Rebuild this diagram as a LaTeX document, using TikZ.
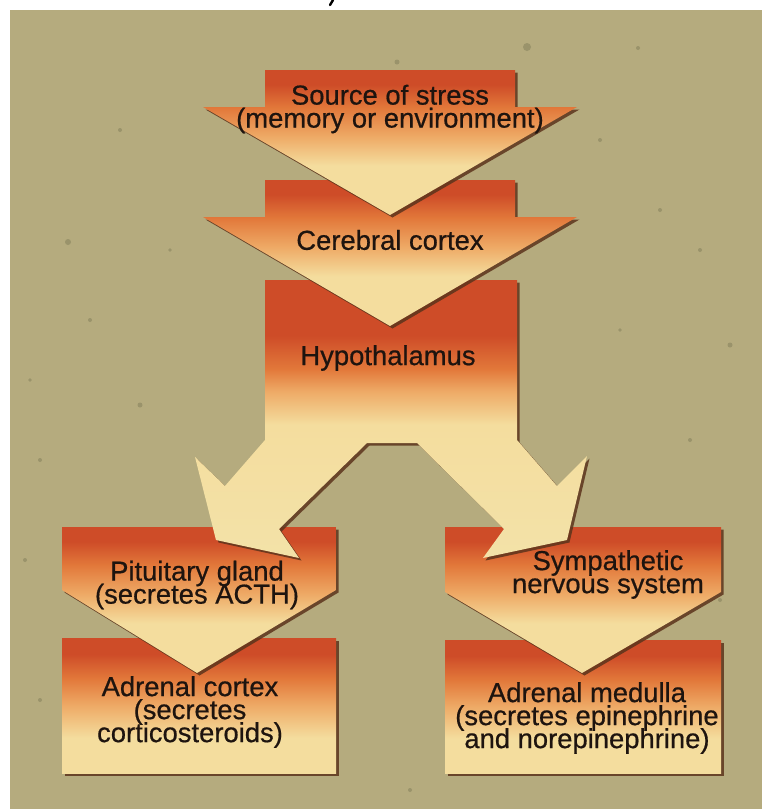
\documentclass[tikz,border=0pt]{standalone}
\usepackage{fontspec}
\setmainfont{Liberation Sans}[FakeBold=0.6]
\newfontfamily\labelfont{Liberation Sans}[FakeBold=0.6]

% palette
\definecolor{paper}{RGB}{181,171,126}
\definecolor{speck}{RGB}{105,104,72}
\definecolor{cRed}{RGB}{206,76,40}
\definecolor{cOrange}{RGB}{226,120,58}
\definecolor{cPeach}{RGB}{238,170,102}
\definecolor{cPale}{RGB}{244,221,158}
\definecolor{cArm}{RGB}{243,226,168}
\definecolor{shadow}{RGB}{92,52,28}
\definecolor{ink}{RGB}{30,20,15}

% vertical fills: red-orange at the top fading to pale yellow
\pgfdeclareverticalshading{arrowshade}{100bp}{color(0bp)=(cPale); color(25bp)=(cPale); color(42bp)=(cPale); color(52bp)=(cPeach); color(62bp)=(cOrange); color(70bp)=(cRed); color(75bp)=(cRed); color(100bp)=(cRed)}
\pgfdeclareverticalshading{hyposhade}{100bp}{color(0bp)=(cArm); color(25bp)=(cArm); color(49bp)=(cPale); color(55bp)=(cPeach); color(59bp)=(cOrange); color(65bp)=(cRed); color(75bp)=(cRed); color(100bp)=(cRed)}
\pgfdeclareverticalshading{rectshade}{100bp}{color(0bp)=(cPale); color(25bp)=(cPale); color(38bp)=(cPale); color(50bp)=(cPeach); color(60bp)=(cOrange); color(69bp)=(cRed); color(75bp)=(cRed); color(100bp)=(cRed)}

\tikzset{
  dropshadow/.style={fill=shadow, opacity=0.85, shift={(2.5,2.5)}},
  arrowbox/.style={shading=arrowshade},
  hypobox/.style={shading=hyposhade},
  rectbox/.style={shading=rectshade},
  lbl/.style={font={\labelfont\fontsize{27.4}{23}\selectfont\lineskiplimit=-40pt\lineskip=0pt},
              align=center, inner sep=0pt, text=ink},
  dot/.style={fill=speck, opacity=0.35}
}

\begin{document}
\begin{tikzpicture}[x=1pt,y=-1pt]
\useasboundingbox (0,0) rectangle (762,809);
\fill[white] (0,0) rectangle (762,809);
\fill[paper] (10,10) rectangle (762,809);

% specks in the paper
\foreach \px/\py/\r in {527/47/4, 397/62/2.5, 638/48/2, 68/242/3, 140/405/2.5, 690/440/2,
  660/210/2, 730/345/2.5, 40/460/2, 90/320/2, 25/560/2, 600/140/2, 120/130/2, 720/600/2,
  40/700/2, 410/790/2, 170/250/1.8, 700/250/2, 620/330/1.8, 30/380/1.8}
  \fill[dot] (\px,\py) circle[radius=\r];

% fragment of a descender at the upper edge
\draw[line width=2.4pt, black, line cap=round] (333,0) -- (330,5);

% ---- Adrenal boxes (bottom row)
\fill[dropshadow] (62,638) rectangle (336,773);
\path[rectbox] (62,638) rectangle (336,773);
\fill[dropshadow] (445,640) rectangle (721,773);
\path[rectbox] (445,640) rectangle (721,773);

% ---- Pituitary and sympathetic arrows
\fill[dropshadow] (62,527) -- (336,527) -- (336,590) -- (197,673) -- (62,590) -- cycle;
\path[arrowbox] (62,527) -- (336,527) -- (336,590) -- (197,673) -- (62,590) -- cycle;
\fill[dropshadow] (445,527) -- (721,527) -- (721,592) -- (582,673) -- (445,592) -- cycle;
\path[arrowbox] (445,527) -- (721,527) -- (721,592) -- (582,673) -- (445,592) -- cycle;

% ---- Hypothalamus with its two forked arrows
\def\hypopath{(265,280) -- (517,280) -- (517,440) -- (557,486) -- (587,456) -- (567,540)
  -- (483,558) -- (504,529) -- (417,443) -- (367,443) -- (279,529) -- (299,558)
  -- (216,540) -- (195,457) -- (225,486) -- (265,440) -- cycle}
\fill[dropshadow] \hypopath;
\path[hypobox] \hypopath;

% ---- Cerebral cortex
\fill[dropshadow] (265,180) -- (515,180) -- (515,217) -- (577,217) -- (390,326) -- (203,217) -- (265,217) -- cycle;
\path[arrowbox] (265,180) -- (515,180) -- (515,217) -- (577,217) -- (390,326) -- (203,217) -- (265,217) -- cycle;

% ---- Source of stress
\fill[dropshadow] (265,70) -- (515,70) -- (515,107) -- (577,107) -- (390,215) -- (203,107) -- (265,107) -- cycle;
\path[arrowbox] (265,70) -- (515,70) -- (515,107) -- (577,107) -- (390,215) -- (203,107) -- (265,107) -- cycle;

% ---- labels
\node[lbl] (source) at (390,109) {Source of stress\\(memory or environment)};
\node[lbl] (cortex) at (390,240) {Cerebral cortex};
\node[lbl] (hypo) at (388,358) {Hypothalamus};
\node[lbl] (pit) at (197,585) {Pituitary gland\\(secretes ACTH)};
\node[lbl] (symp) at (608,574.5) {Sympathetic\\nervous system};
\node[lbl] (adcortex) at (190,712) {Adrenal cortex\\(secretes\\corticosteroids)};
\node[lbl] (admed) at (587,718) {Adrenal medulla\\(secretes epinephrine\\and norepinephrine)};
\end{tikzpicture}
\end{document}
